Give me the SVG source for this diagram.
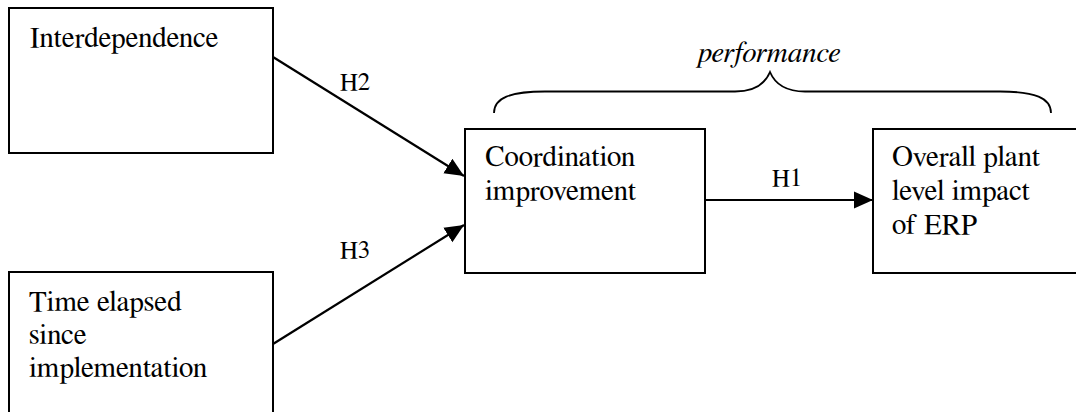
<svg xmlns="http://www.w3.org/2000/svg" width="1076" height="412" viewBox="0 0 1076 412">
  <style>
    .box { fill: #ffffff; stroke: #000000; stroke-width: 2; }
    text { fill: #000000; }
    .lbl { font-size: 29px; }
    .hyp { font-size: 25px; }
    .ital { font-size: 29px; font-style: italic; }
    .edge { fill: none; stroke: #000000; stroke-width: 2.2; }
    .brace { fill: none; stroke: #000000; stroke-width: 1.8; }
  </style>
  <defs>
    <marker id="arrow" markerUnits="userSpaceOnUse" markerWidth="20" markerHeight="20" viewBox="0 0 20 20" refX="19" refY="10" orient="auto">
      <path d="M0,1.5 L19,10 L0,18.5 Z" fill="#000000"/>
    </marker>
  </defs>
  <rect width="1076" height="412" fill="#ffffff"/>

  <g id="interdependence">
    <rect class="box" x="9" y="8" width="264" height="145"/>
    <text class="lbl" x="30" y="47" font-family="Nimbus Roman, FreeSerif, Liberation Serif, serif">Interdependence</text>
  </g>

  <g id="time-elapsed">
    <rect class="box" x="9" y="272" width="264" height="150"/>
    <text class="lbl" x="29" y="311" font-family="Nimbus Roman, FreeSerif, Liberation Serif, serif">Time elapsed</text>
    <text class="lbl" x="29" y="344" font-family="Nimbus Roman, FreeSerif, Liberation Serif, serif">since</text>
    <text class="lbl" x="29" y="377" font-family="Nimbus Roman, FreeSerif, Liberation Serif, serif">implementation</text>
  </g>

  <g id="coordination">
    <rect class="box" x="465" y="129" width="240" height="144"/>
    <text class="lbl" x="485" y="166" font-family="Nimbus Roman, FreeSerif, Liberation Serif, serif">Coordination</text>
    <text class="lbl" x="485" y="200" font-family="Nimbus Roman, FreeSerif, Liberation Serif, serif">improvement</text>
  </g>

  <g id="plant-impact">
    <rect class="box" x="873" y="129" width="220" height="144"/>
    <text class="lbl" x="892" y="166" font-family="Nimbus Roman, FreeSerif, Liberation Serif, serif">Overall plant</text>
    <text class="lbl" x="892" y="200" font-family="Nimbus Roman, FreeSerif, Liberation Serif, serif">level impact</text>
    <text class="lbl" x="892" y="234" font-family="Nimbus Roman, FreeSerif, Liberation Serif, serif">of ERP</text>
  </g>

  <g id="performance">
    <path class="brace" d="M494,113 C494,98 510,91.5 545,91.5 L735,91.5 C755,91.5 765,84 770,72 C775,84 785,91.5 805,91.5 L1000,91.5 C1035,91.5 1051,98 1051,113"/>
    <text class="ital" x="698" y="62" font-family="Nimbus Roman, FreeSerif, Liberation Serif, serif">performance</text>
  </g>

  <g id="connectors">
    <line class="edge" x1="273" y1="57" x2="464" y2="176" marker-end="url(#arrow)"/>
    <line class="edge" x1="273" y1="344" x2="464" y2="225" marker-end="url(#arrow)"/>
    <line class="edge" x1="705" y1="200" x2="873" y2="200" marker-end="url(#arrow)"/>
    <text class="hyp" x="340" y="90" font-family="Nimbus Roman, FreeSerif, Liberation Serif, serif">H2</text>
    <text class="hyp" x="340" y="258" font-family="Nimbus Roman, FreeSerif, Liberation Serif, serif">H3</text>
    <text class="hyp" x="772" y="186" font-family="Nimbus Roman, FreeSerif, Liberation Serif, serif">H1</text>
  </g>
</svg>
